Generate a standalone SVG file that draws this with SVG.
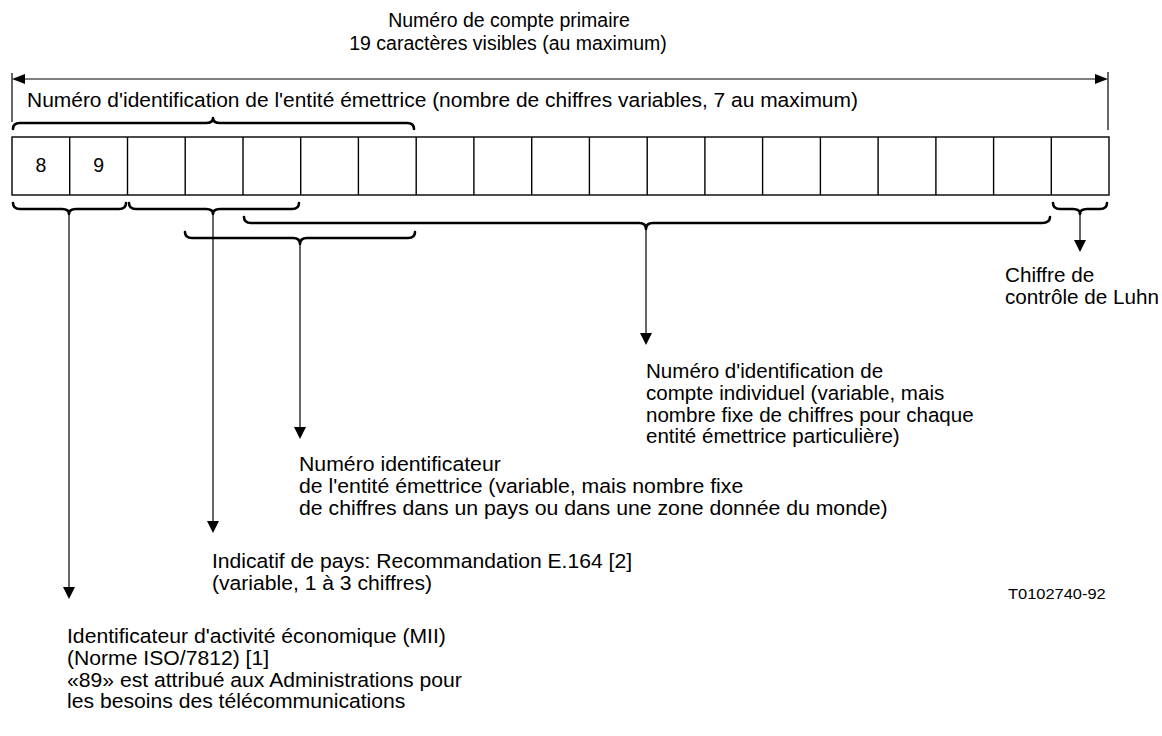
<svg xmlns="http://www.w3.org/2000/svg" width="1162" height="736" viewBox="0 0 1162 736">
<style>
text{font-family:"Liberation Sans",Arial,sans-serif;font-size:19.5px;fill:#000}
.small{font-size:15.5px}
.cell{fill:none;stroke:#000;stroke-width:1.4}
.brace{fill:none;stroke:#000;stroke-width:2.6;stroke-linecap:round;stroke-linejoin:round}
.thin{fill:none;stroke:#000;stroke-width:1.2}
.head{fill:#000}
</style>
<rect width="1162" height="736" fill="#fff"/>
<g id="title">
<text x="509" y="27" text-anchor="middle">Numéro de compte primaire</text>
<text x="508" y="50" text-anchor="middle">19 caractères visibles (au maximum)</text>
</g>
<g id="dimension">
<line class="thin" x1="12" y1="73" x2="12" y2="122"/>
<line class="thin" x1="1108" y1="72" x2="1108" y2="130"/>
<line class="thin" x1="22" y1="79" x2="1098" y2="79"/>
<polygon class="head" points="12,79 25,74 25,84"/>
<polygon class="head" points="1108,79 1095,74 1095,84"/>
</g>
<g id="issuer-id-label">
<g transform="translate(27,0) scale(1.075,1)"><text x="0" y="107">Numéro d'identification de l'entité émettrice (nombre de chiffres variables, 7 au maximum)</text></g>
<path class="brace" d="M13,129 Q13,123 20,123 L206,123 Q213,123 213,118 Q213,123 220,123 L407,123 Q414,123 414,129"/>
</g>
<g id="cells">
<rect class="cell" x="12" y="137" width="1097" height="58"/>
<path class="cell" d="M69.7,137V195M127.5,137V195M185.2,137V195M243,137V195M300.7,137V195M358.4,137V195M416.2,137V195M473.9,137V195M531.7,137V195M589.4,137V195M647.2,137V195M704.9,137V195M762.6,137V195M820.4,137V195M878.1,137V195M935.9,137V195M993.6,137V195M1051.3,137V195"/>
<text x="41" y="172" text-anchor="middle">8</text>
<text x="98.6" y="172" text-anchor="middle">9</text>
</g>
<g id="braces">
<path class="brace" d="M13,203 Q13,209 20,209 L62,209 Q69,209 69,214 Q69,209 76,209 L119,209 Q126,209 126,203"/>
<path class="brace" d="M129,203 Q129,209 136,209 L206,209 Q213,209 213,214 Q213,209 220,209 L292,209 Q299,209 299,203"/>
<path class="brace" d="M244,217 Q244,223 251,223 L639,223 Q646,223 646,229 Q646,223 653,223 L1042,223 Q1050,223 1050,217"/>
<path class="brace" d="M185,232 Q185,238 192,238 L293,238 Q300,238 300,244 Q300,238 307,238 L408,238 Q415,238 415,232"/>
<path class="brace" d="M1053,203 Q1053,209 1060,209 L1073,209 Q1080,209 1080,214 Q1080,209 1087,209 L1100,209 Q1107,209 1107,203"/>
</g>
<g id="connectors">
<line class="thin" x1="69" y1="214" x2="69" y2="588"/>
<polygon class="head" points="63,587 75,587 69,599"/>
<line class="thin" x1="213" y1="214" x2="213" y2="522"/>
<polygon class="head" points="207,521 219,521 213,533"/>
<line class="thin" x1="300" y1="244" x2="300" y2="428"/>
<polygon class="head" points="294,427 306,427 300,439"/>
<line class="thin" x1="646" y1="229" x2="646" y2="334"/>
<polygon class="head" points="640,333 652,333 646,345"/>
<line class="thin" x1="1080" y1="214" x2="1080" y2="241"/>
<polygon class="head" points="1074,240 1086,240 1080,252"/>
</g>
<g id="luhn-label" transform="translate(1005,0) scale(1.06,1)">
<text x="0" y="282">Chiffre de</text>
<text x="0" y="304">contrôle de Luhn</text>
</g>
<g id="account-label" transform="translate(646,0) scale(1.055,1)">
<text x="0" y="378">Numéro d'identification de</text>
<text x="0" y="400">compte individuel (variable, mais</text>
<text x="0" y="422">nombre fixe de chiffres pour chaque</text>
<text x="0" y="443">entité émettrice particulière)</text>
</g>
<g id="issuer-label" transform="translate(299,0) scale(1.09,1)">
<text x="0" y="471">Numéro identificateur</text>
<text x="0" y="493">de l'entité émettrice (variable, mais nombre fixe</text>
<text x="0" y="515">de chiffres dans un pays ou dans une zone donnée du monde)</text>
</g>
<g id="country-label" transform="translate(212,0) scale(1.083,1)">
<text x="0" y="568">Indicatif de pays: Recommandation E.164 [2]</text>
<text x="0" y="590">(variable, 1 à 3 chiffres)</text>
</g>
<g id="mii-label" transform="translate(67,0) scale(1.085,1)">
<text x="0" y="643">Identificateur d'activité économique (MII)</text>
<text x="0" y="665">(Norme ISO/7812) [1]</text>
<text x="0" y="687">«89» est attribué aux Administrations pour</text>
<text x="0" y="708">les besoins des télécommunications</text>
</g>
<g id="ref" transform="translate(1008,0) scale(1.06,1)">
<text class="small" x="0" y="599">T0102740-92</text>
</g>
</svg>
